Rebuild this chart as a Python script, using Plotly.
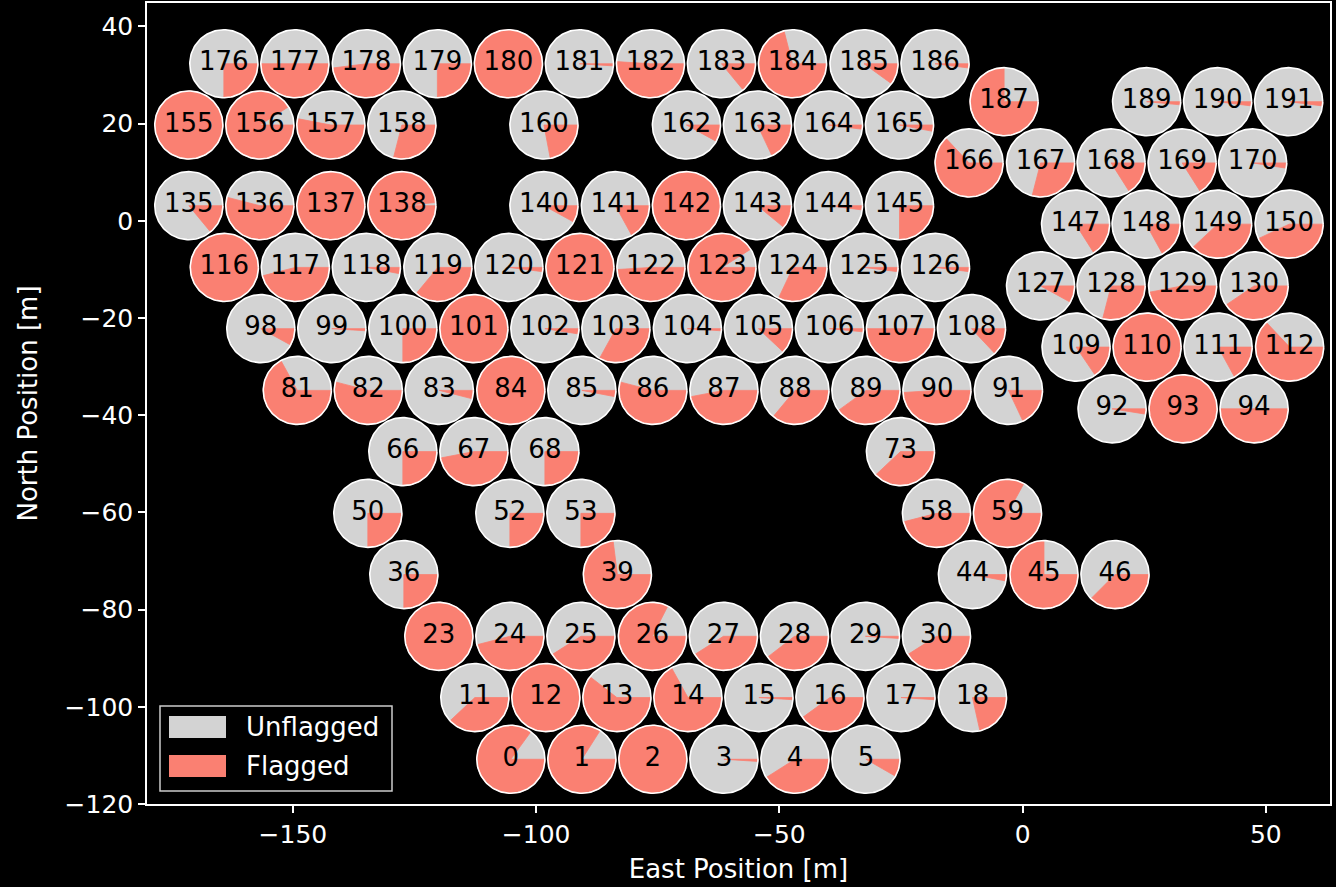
import numpy as np
import plotly.graph_objects as go

# ---- data ----
ant_ids = [176, 177, 178, 179, 180, 181, 182, 183, 184, 185, 186,
           187, 189, 190, 191,
           155, 156, 157, 158, 160, 162, 163, 164, 165,
           166, 167, 168, 169, 170,
           135, 136, 137, 138, 140, 141, 142, 143, 144, 145,
           147, 148, 149, 150,
           116, 117, 118, 119, 120, 121, 122, 123, 124, 125, 126,
           127, 128, 129, 130,
           98, 99, 100, 101, 102, 103, 104, 105, 106, 107, 108,
           109, 110, 111, 112,
           81, 82, 83, 84, 85, 86, 87, 88, 89, 90, 91,
           92, 93, 94,
           66, 67, 68, 73,
           50, 52, 53, 58, 59,
           36, 39, 44, 45, 46,
           23, 24, 25, 26, 27, 28, 29, 30,
           11, 12, 13, 14, 15, 16, 17, 18,
           0, 1, 2, 3, 4, 5]

east = [-164.2, -149.6, -134.9, -120.3, -105.7, -91.1, -76.5, -61.9, -47.3, -32.6, -18.0,
        -3.8, 25.5, 40.1, 54.7,
        -171.4, -156.8, -142.2, -127.6, -98.4, -69.1, -54.5, -39.9, -25.3,
        -11.0, 3.7, 18.2, 32.8, 47.3,
        -171.4, -156.8, -142.2, -127.6, -98.4, -83.7, -69.1, -54.5, -39.9, -25.3,
        10.9, 25.4, 40.1, 54.8,
        -164.1, -149.5, -134.9, -120.2, -105.6, -91.0, -76.4, -61.8, -47.2, -32.6, -17.9,
        3.7, 18.2, 32.9, 47.6,
        -156.6, -142.0, -127.4, -112.8, -98.2, -83.6, -68.9, -54.3, -39.7, -25.1, -10.5,
        11.0, 25.6, 40.2, 54.9,
        -149.1, -134.5, -119.9, -105.2, -90.6, -76.0, -61.4, -46.8, -32.2, -17.6, -2.9,
        18.4, 33.0, 47.6,
        -127.4, -112.8, -98.2, -25.1,
        -134.6, -105.4, -90.8, -17.7, -3.1,
        -127.2, -83.3, -10.3, 4.4, 19.0,
        -120.0, -105.4, -90.8, -76.1, -61.5, -46.9, -32.3, -17.7,
        -112.6, -98.0, -83.4, -68.8, -54.2, -39.6, -25.0, -10.3,
        -105.2, -90.6, -76.0, -61.4, -46.8, -32.2]

north = [32.3] * 11 + [24.5] * 4 + [19.7] * 9 + [11.9] * 5 + [3.1] * 10 + [-0.7] * 4 + \
        [-9.6] * 11 + [-13.4] * 4 + [-22.2] * 11 + [-26.0] * 4 + [-34.9] * 11 + [-38.7] * 3 + \
        [-47.5] * 4 + [-60.2] * 5 + [-72.8] * 5 + [-85.5] * 8 + [-98.1] * 8 + [-110.8] * 6

flag_frac = [0.25, 0.50, 0.48, 0.25, 1.00, 0.01, 0.51, 0.14, 0.71, 0.10, 0.02,
             0.75, 0.015, 0.02, 0.02,
             1.00, 0.91, 0.53, 0.29, 0.22, 0.08, 0.18, 0.02, 0.03,
             0.63, 0.29, 0.16, 0.16, 0.025,
             0.14, 0.54, 1.00, 0.985, 0.08, 0.17, 1.00, 0.11, 0.02, 0.25,
             0.16, 0.17, 0.38, 0.43,
             1.00, 0.46, 0.03, 0.36, 0.02, 1.00, 0.49, 0.91, 0.32, 0.02, 0.02,
             0.08, 0.29, 0.47, 0.405,
             0.08, 0.01, 0.25, 1.00, 0.025, 0.33, 0.01, 0.12, 0.015, 0.50, 0.13,
             0.155, 1.00, 0.17, 0.63,
             0.67, 0.54, 0.04, 1.00, 0.03, 0.54, 0.47, 0.36, 0.40, 0.49, 0.18,
             0.025, 1.00, 0.50,
             0.25, 0.47, 0.25, 0.38,
             0.25, 0.25, 0.25, 0.46, 0.83,
             0.25, 0.73, 0.03, 0.75, 0.375,
             1.00, 0.46, 0.41, 0.825, 0.41, 0.395, 0.01, 0.41,
             0.38, 1.00, 0.605, 0.67, 0.01, 0.40, 0.01, 0.215,
             0.85, 0.84, 1.00, 0.01, 0.41, 0.083]

legend_labels = ["Unflagged", "Flagged"]

dish_radius = 7.0
x_range = [-180.0, 63.2]
y_range = [-120.0, 44.8]
x_ticks = [-150, -100, -50, 0, 50]
y_ticks = [-120, -100, -80, -60, -40, -20, 0, 20, 40]

UNFLAG = "#D3D3D3"
FLAG = "#FA8072"
FONT = "DejaVu Sans"

# figure / plot-area geometry (pixels)
W, H = 1336, 887
ML, MR, MT, MB = 147, 6, 3, 83
PW, PH = W - ML - MR, H - MT - MB


def px_to_paper(px, py):
    return (px - ML) / PW, (H - MB - py) / PH


# ---- geometry built from the data ----
circ_x, circ_y = [], []
wed_x, wed_y = [], []
t_full = np.linspace(0, 2 * np.pi, 121)
for cx, cy, f in zip(east, north, flag_frac):
    cxs = cx + dish_radius * np.cos(t_full)
    cys = cy + dish_radius * np.sin(t_full)
    circ_x += list(cxs) + [None]
    circ_y += list(cys) + [None]
    if f >= 0.999:
        wed_x += list(cxs) + [None]
        wed_y += list(cys) + [None]
    elif f > 0:
        n = max(2, int(np.ceil(f * 120)))
        t = np.linspace(2 * np.pi * (1 - f), 2 * np.pi, n + 1)
        wed_x += [cx] + list(cx + dish_radius * np.cos(t)) + [cx, None]
        wed_y += [cy] + list(cy + dish_radius * np.sin(t)) + [cy, None]

fig = go.Figure()
fig.add_trace(go.Scatter(x=circ_x, y=circ_y, mode="lines", fill="toself",
                         fillcolor=UNFLAG, line=dict(width=0, color=UNFLAG),
                         name=legend_labels[0], showlegend=False, hoverinfo="skip"))
fig.add_trace(go.Scatter(x=wed_x, y=wed_y, mode="lines", fill="toself",
                         fillcolor=FLAG, line=dict(width=0.8, color=FLAG),
                         name=legend_labels[1], showlegend=False, hoverinfo="skip"))
fig.add_trace(go.Scatter(x=circ_x, y=circ_y, mode="lines",
                         line=dict(width=1.6, color="white"),
                         showlegend=False, hoverinfo="skip"))
fig.add_trace(go.Scatter(x=east, y=north, mode="text",
                         text=[str(a) for a in ant_ids],
                         textposition="middle center",
                         textfont=dict(family=FONT, size=26, color="black"),
                         showlegend=False, hoverinfo="skip"))

axis_common = dict(showgrid=False, zeroline=False, showline=True, mirror=True,
                   linecolor="white", linewidth=1.5, ticks="outside", ticklen=7,
                   tickwidth=1.5, tickcolor="white", automargin=False,
                   tickfont=dict(family=FONT, size=25, color="white"))

# ---- legend (matplotlib-style patches) ----
shapes = []
annotations = []
bx0, by0 = px_to_paper(160, 791)
bx1, by1 = px_to_paper(392, 706)
shapes.append(dict(type="rect", xref="paper", yref="paper", x0=bx0, y0=by0, x1=bx1, y1=by1,
                   fillcolor="black", line=dict(color="#cccccc", width=1.5), layer="above"))
for label, color, cy_px in zip(legend_labels, [UNFLAG, FLAG], [727, 766]):
    px0, py0 = px_to_paper(169, cy_px + 11)
    px1, py1 = px_to_paper(226, cy_px - 11)
    shapes.append(dict(type="rect", xref="paper", yref="paper", x0=px0, y0=py0, x1=px1, y1=py1,
                       fillcolor=color, line=dict(width=0), layer="above"))
    tx, ty = px_to_paper(244, cy_px)
    annotations.append(dict(xref="paper", yref="paper", x=tx, y=ty, xanchor="left",
                            yanchor="middle", text=label, showarrow=False,
                            font=dict(family=FONT, size=26, color="white")))

fig.update_layout(
    width=W, height=H,
    margin=dict(l=ML, r=MR, t=MT, b=MB),
    paper_bgcolor="black", plot_bgcolor="black",
    font=dict(family=FONT, color="white"),
    xaxis=dict(range=x_range, tickvals=x_ticks,
               title=dict(text="East Position [m]", font=dict(size=26, color="white"), standoff=12),
               **axis_common),
    yaxis=dict(range=y_range, tickvals=y_ticks,
               title=dict(text="North Position [m]", font=dict(size=26, color="white"), standoff=19),
               **axis_common),
    shapes=shapes,
    annotations=annotations,
    showlegend=False,
)

fig.write_html("out.html", config={"displayModeBar": False},
               post_script="document.body.style.margin='0px';document.body.style.overflow='hidden';")
